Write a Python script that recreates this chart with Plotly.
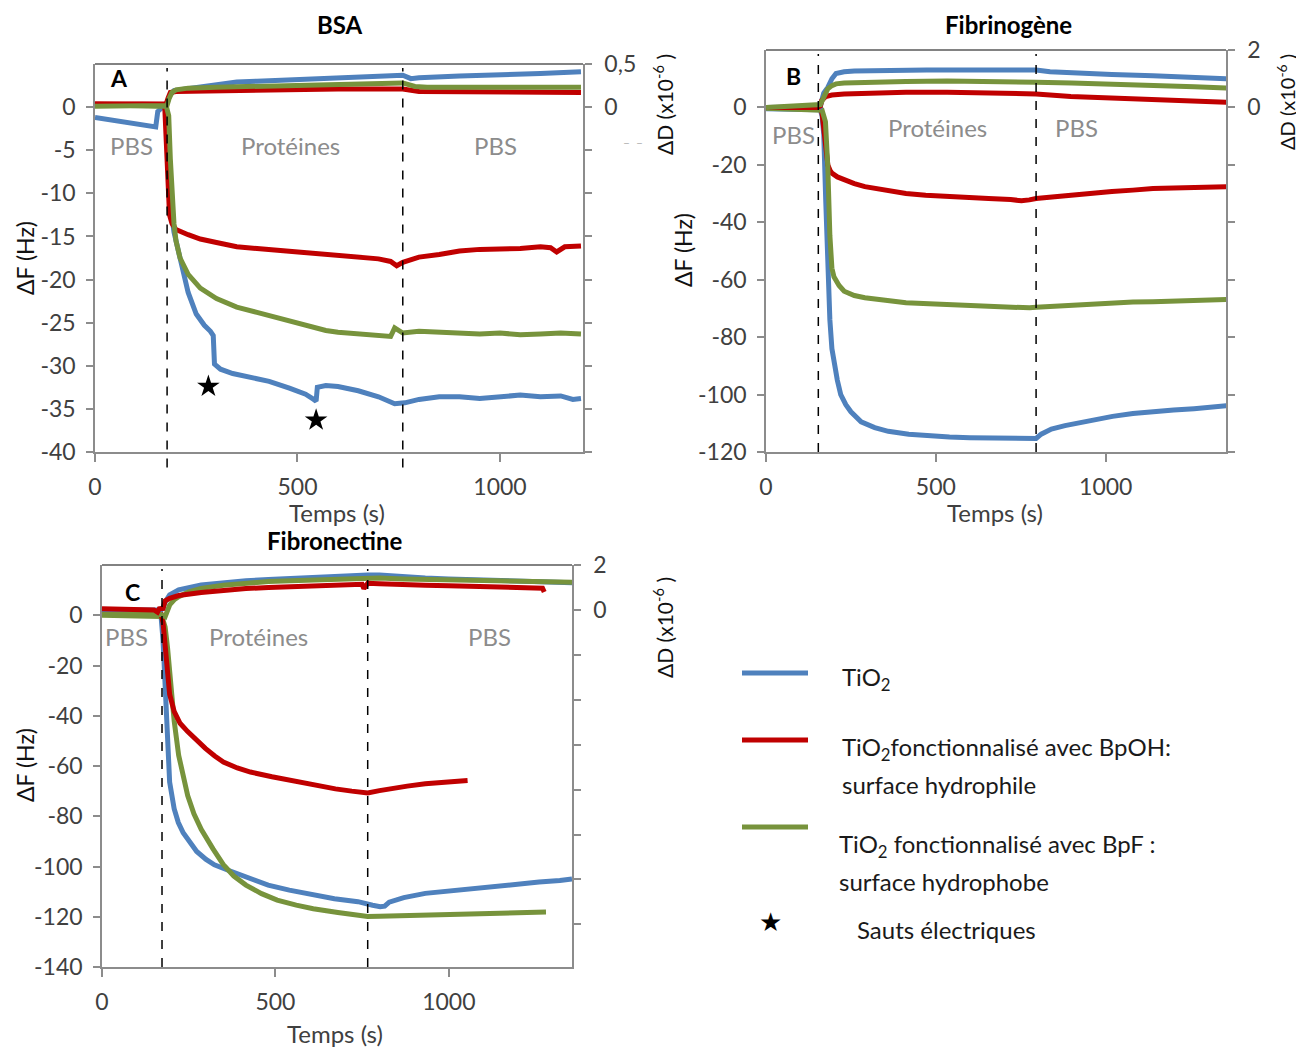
import plotly.graph_objects as go

# ---------------- DATA ----------------
BLUE, RED, GREEN = "#4f81bd", "#c00000", "#77933c"

# Panel A : BSA
A_blue_t = [0, 40, 80, 120, 150, 155, 165, 176, 180, 184, 188, 195, 210, 230, 250, 270, 285, 292, 295, 310, 340, 380, 430, 480, 520, 540, 546, 549, 570, 600, 650, 700, 740, 765, 800, 850, 900, 950, 1000, 1050, 1100, 1150, 1180, 1200]
A_blue_F = [-1.2, -1.5, -1.7, -2.0, -2.3, -0.5, -0.1, 0, -4, -9, -12, -14.5, -17.5, -21.5, -24, -25.3, -26, -26.5, -29.8, -30.4, -30.9, -31.3, -31.8, -32.6, -33.3, -33.9, -34.1, -32.5, -32.3, -32.4, -32.9, -33.6, -34.4, -34.3, -33.9, -33.6, -33.6, -33.8, -33.6, -33.4, -33.6, -33.5, -33.9, -33.8]
A_red_t = [0, 50, 100, 150, 172, 176, 180, 184, 190, 200, 230, 260, 300, 350, 400, 450, 500, 550, 600, 650, 700, 730, 745, 760, 800, 850, 900, 950, 1000, 1050, 1100, 1125, 1140, 1160, 1200]
A_red_F = [0.4, 0.4, 0.3, 0.3, 0.3, -4, -10, -12.5, -13.5, -14.2, -14.8, -15.3, -15.7, -16.2, -16.4, -16.6, -16.8, -17.0, -17.1, -17.4, -17.6, -17.9, -18.4, -18.0, -17.4, -17.1, -16.7, -16.5, -16.5, -16.4, -16.2, -16.3, -16.8, -16.2, -16.1]
A_green_t = [0, 50, 100, 150, 176, 182, 186, 190, 195, 200, 210, 230, 260, 300, 350, 400, 450, 500, 540, 570, 600, 650, 700, 730, 740, 760, 800, 850, 900, 950, 1000, 1050, 1100, 1150, 1200]
A_green_F = [0.3, 0.2, 0.1, 0.1, 0.1, -1, -6, -11, -13.5, -15.5, -17.5, -19.4, -21, -22.2, -23.2, -23.8, -24.4, -25, -25.4, -25.9, -26.1, -26.3, -26.4, -26.6, -25.6, -26.2, -26, -26.1, -26.2, -26.3, -26.2, -26.4, -26.3, -26.2, -26.3]
A_blueD_t = [0, 100, 170, 178, 185, 195, 210, 250, 300, 350, 400, 500, 600, 700, 760, 780, 800, 900, 1000, 1100, 1200]
A_blueD = [0.02, 0.02, 0.02, 0.05, 0.14, 0.19, 0.2, 0.23, 0.27, 0.29, 0.3, 0.32, 0.34, 0.36, 0.37, 0.33, 0.34, 0.36, 0.37, 0.39, 0.41]
A_greenD_t = [0, 170, 178, 183, 190, 200, 230, 300, 400, 500, 600, 700, 740, 760, 790, 820, 900, 1000, 1100, 1200]
A_greenD = [0.01, 0.01, 0.02, 0.1, 0.17, 0.2, 0.22, 0.23, 0.24, 0.25, 0.26, 0.27, 0.28, 0.28, 0.24, 0.23, 0.23, 0.23, 0.23, 0.23]
A_redD_t = [0, 170, 176, 180, 186, 200, 300, 400, 500, 600, 700, 760, 800, 900, 1000, 1100, 1200]
A_redD = [0.03, 0.03, 0.04, 0.1, 0.17, 0.18, 0.19, 0.2, 0.2, 0.21, 0.21, 0.21, 0.18, 0.18, 0.18, 0.18, 0.17]
A_inject = [178, 760]
A_jump_t = [280, 546]
A_jump_F = [-32.4, -36.3]
A_left_ticks = [-40, -35, -30, -25, -20, -15, -10, -5, 0]
A_right_ticks = [-4, -3.5, -3, -2.5, -2, -1.5, -1, -0.5, 0, 0.5]
A_right_labels = {0: "0", 0.5: "0,5"}

# Panel B : Fibrinogene
B_blue_t = [0, 50, 100, 150, 160, 165, 170, 176, 182, 188, 194, 200, 210, 220, 235, 250, 280, 320, 360, 420, 480, 540, 600, 660, 720, 770, 795, 810, 840, 880, 920, 970, 1020, 1080, 1140, 1200, 1260, 1310, 1355]
B_blue_F = [-0.5, -0.5, -0.6, -0.6, -0.8, -3, -9.4, -33, -56, -74, -84, -89, -95, -100, -103.5, -106, -109.5, -111.5, -112.8, -113.8, -114.4, -114.8, -115, -115.2, -115.3, -115.2, -115.3, -113.8, -112, -110.8, -109.8, -108.6, -107.6, -106.6, -105.8, -105.4, -104.9, -104.6, -103.9]
B_red_t = [0, 50, 100, 150, 160, 165, 170, 176, 182, 188, 194, 210, 230, 260, 291, 350, 412, 470, 533, 600, 655, 720, 752, 775, 795, 850, 897, 960, 1018, 1080, 1139, 1200, 1260, 1310, 1355]
B_red_F = [0, 0, -0.2, -0.3, -0.4, -2, -7, -14, -20, -21.8, -22.9, -24.2, -25.2, -26.5, -27.6, -28.8, -30, -30.6, -31.1, -31.4, -31.7, -32.1, -32.5, -32.2, -31.7, -31.1, -30.5, -29.9, -29.3, -28.8, -28.2, -28.1, -27.8, -27.9, -27.6]
B_green_t = [0, 50, 100, 150, 165, 175, 182, 188, 194, 200, 206, 215, 230, 260, 291, 350, 412, 480, 533, 600, 655, 720, 776, 795, 850, 897, 960, 1018, 1080, 1139, 1200, 1261, 1310, 1355]
B_green_F = [-0.3, -0.4, -0.6, -1.0, -1.0, -5, -21, -44.6, -56, -59, -60.5, -62, -64, -65.5, -66.3, -67.3, -68, -68.4, -68.7, -69, -69.2, -69.5, -69.8, -69.6, -69.2, -68.7, -68.4, -68, -67.8, -67.7, -67.5, -67.2, -67.2, -66.9]
B_blueD_t = [0, 150, 160, 164, 170, 182, 194, 206, 230, 260, 352, 473, 594, 715, 795, 836, 900, 1018, 1139, 1261, 1355]
B_blueD = [0, 0, 0.02, 0.24, 0.5, 0.7, 1.0, 1.18, 1.24, 1.27, 1.3, 1.3, 1.3, 1.3, 1.3, 1.24, 1.2, 1.15, 1.1, 1.05, 1.0]
B_greenD_t = [0, 100, 150, 160, 170, 182, 194, 206, 230, 291, 412, 533, 655, 795, 900, 1018, 1139, 1261, 1355]
B_greenD = [0, 0.05, 0.1, 0.1, 0.35, 0.65, 0.76, 0.82, 0.85, 0.88, 0.9, 0.92, 0.92, 0.88, 0.85, 0.82, 0.77, 0.72, 0.68]
B_redD_t = [0, 100, 150, 160, 164, 176, 194, 230, 291, 412, 533, 655, 760, 795, 897, 1018, 1139, 1261, 1355]
B_redD = [0, 0, 0, 0.05, 0.24, 0.38, 0.43, 0.47, 0.5, 0.53, 0.53, 0.52, 0.5, 0.47, 0.38, 0.32, 0.26, 0.22, 0.18]
B_inject = [154, 795]
B_left_ticks = [-120, -100, -80, -60, -40, -20, 0]
B_right_ticks = [-12, -10, -8, -6, -4, -2, 0, 2]
B_right_labels = {0: "0", 2: "2"}

# Panel C : Fibronectine
C_blue_t = [0, 50, 100, 150, 170, 176, 182, 189, 195, 208, 220, 234, 250, 273, 300, 324, 360, 389, 430, 479, 540, 609, 670, 738, 766, 780, 802, 815, 828, 870, 932, 1000, 1061, 1120, 1190, 1260, 1320, 1355]
C_blue_F = [0.5, 0.3, 0.2, 0.2, 0, -10, -28.9, -55.7, -66.4, -77, -82.5, -86.6, -90, -94, -97.2, -99.3, -101.3, -102.7, -105, -107.4, -109.4, -111.4, -112.8, -114, -115.2, -115.4, -116, -115.8, -114.2, -112.4, -110.7, -109.7, -108.7, -107.9, -107, -106.2, -105.6, -105]
C_red_t = [0, 50, 100, 150, 160, 170, 176, 182, 189, 195, 208, 225, 247, 270, 298, 325, 350, 390, 428, 490, 544, 610, 673, 720, 766, 800, 828, 880, 932, 990, 1054]
C_red_F = [0.8, 0.6, 0.6, 0.5, 0.2, 0.6, -3, -12.8, -24, -31.5, -38.3, -43, -46.3, -49.5, -53, -56, -58.4, -60.8, -62.4, -64.3, -65.8, -67.5, -69.1, -70, -70.7, -69.8, -69.1, -68, -67.1, -66.4, -65.8]
C_green_t = [0, 50, 100, 150, 170, 176, 182, 189, 195, 208, 221, 234, 247, 265, 286, 320, 350, 380, 415, 460, 505, 560, 609, 680, 740, 766, 800, 867, 930, 996, 1060, 1125, 1200, 1280]
C_green_F = [0, -0.2, -0.4, -0.5, -0.5, -2, -4.7, -13, -22, -42, -55.7, -65, -71.8, -79, -85.2, -93, -99.3, -103.8, -107.4, -110.8, -113.4, -115.4, -116.8, -118.3, -119.4, -119.9, -119.8, -119.5, -119.2, -119, -118.8, -118.5, -118.3, -118.1]
C_blueD_t = [0, 100, 170, 176, 182, 195, 221, 286, 350, 415, 480, 544, 609, 680, 740, 756, 760, 766, 800, 867, 932, 1000, 1100, 1190, 1280, 1355]
C_blueD = [0, 0, 0, 0.07, 0.35, 0.67, 0.89, 1.11, 1.22, 1.3, 1.35, 1.4, 1.45, 1.48, 1.52, 1.56, 1.58, 1.56, 1.55, 1.46, 1.42, 1.38, 1.33, 1.29, 1.25, 1.21]
C_greenD_t = [0, 100, 170, 182, 195, 208, 221, 250, 286, 350, 415, 480, 544, 609, 680, 740, 766, 800, 867, 1000, 1100, 1190, 1280, 1355]
C_greenD = [-0.2, -0.2, -0.2, -0.3, 0.22, 0.45, 0.59, 0.8, 0.96, 1.1, 1.2, 1.26, 1.3, 1.33, 1.38, 1.42, 1.44, 1.42, 1.38, 1.33, 1.29, 1.26, 1.24, 1.23]
C_redD_t = [0, 100, 150, 160, 165, 176, 182, 195, 221, 286, 350, 415, 480, 544, 609, 680, 740, 750, 755, 760, 766, 800, 867, 932, 1000, 1100, 1190, 1260, 1270, 1275]
C_redD = [0.05, 0.05, 0.0, -0.1, 0.05, 0.07, 0.4, 0.52, 0.64, 0.78, 0.89, 0.95, 1.0, 1.04, 1.08, 1.12, 1.14, 1.14, 0.95, 1.1, 1.19, 1.17, 1.11, 1.1, 1.08, 1.04, 1.02, 0.99, 0.97, 0.8]
C_inject = [173, 766]
C_left_ticks = [-140, -120, -100, -80, -60, -40, -20, 0]
C_right_ticks = [-14, -12, -10, -8, -6, -4, -2, 0, 2]
C_right_labels = {0: "0", 2: "2"}

X_ticks = [0, 500, 1000]

# ---------------- FIGURE ----------------
W, H = 1304, 1048
OX, OY = 8, 8          # page body margin compensation
FONT = "Lato"
TXT = "#404040"
AX = "#8c8c8c"


def P(x, y):
    return (x - OX) / W, 1 - (y - OY) / H


def dx(x0, x1):
    return [(x0 - OX) / W, (x1 - OX) / W]


def dy(top, bottom):
    return [1 - (bottom - OY) / H, 1 - (top - OY) / H]


fig = go.Figure()
LW = 5


def add(t, v, color, xa, ya):
    fig.add_trace(go.Scatter(x=t, y=v, mode="lines", line=dict(color=color, width=LW),
                             xaxis=xa, yaxis=ya, hoverinfo="skip"))


# Panel A
add(A_blue_t, A_blue_F, BLUE, "x", "y")
add(A_red_t, A_red_F, RED, "x", "y")
add(A_green_t, A_green_F, GREEN, "x", "y")
add(A_blueD_t, A_blueD, BLUE, "x", "y2")
add(A_redD_t, A_redD, RED, "x", "y2")
add(A_greenD_t, A_greenD, GREEN, "x", "y2")
fig.add_trace(go.Scatter(x=A_jump_t, y=A_jump_F, mode="markers", xaxis="x", yaxis="y",
                         marker=dict(symbol="star", size=17, color="black"), hoverinfo="skip"))
# Panel B
add(B_blue_t, B_blue_F, BLUE, "x2", "y3")
add(B_red_t, B_red_F, RED, "x2", "y3")
add(B_green_t, B_green_F, GREEN, "x2", "y3")
add(B_blueD_t, B_blueD, BLUE, "x2", "y4")
add(B_redD_t, B_redD, RED, "x2", "y4")
add(B_greenD_t, B_greenD, GREEN, "x2", "y4")
# Panel C
add(C_blue_t, C_blue_F, BLUE, "x3", "y5")
add(C_green_t, C_green_F, GREEN, "x3", "y5")
add(C_red_t, C_red_F, RED, "x3", "y5")
add(C_blueD_t, C_blueD, BLUE, "x3", "y6")
add(C_greenD_t, C_greenD, GREEN, "x3", "y6")
add(C_redD_t, C_redD, RED, "x3", "y6")

tickfont = dict(family=FONT, size=23, color=TXT)
common = dict(showline=True, linecolor=AX, linewidth=1.5, ticks="outside", tickcolor=AX,
              tickwidth=1.5, showgrid=False, zeroline=False, tickfont=tickfont,
              automargin=False, fixedrange=True)


def lab(v):
    return ("%g" % v).replace(".", ",")


def xax(x0, x1, rng, yname):
    return dict(domain=dx(x0, x1), range=rng, anchor=yname, tickvals=X_ticks,
                ticktext=[lab(v) for v in X_ticks], ticklen=8, ticklabelstandoff=6, **common)


def yleft(top, bottom, rng, vals, xname):
    return dict(domain=dy(top, bottom), range=rng, anchor=xname, tickvals=vals,
                ticktext=[lab(v) for v in vals], ticklen=7, ticklabelstandoff=6, **common)


def yright(overlay, rng, vals, labels, xname):
    lv = [v for v in vals if v in labels]
    return dict(overlaying=overlay, side="right", range=rng, anchor=xname, tickvals=lv,
                ticktext=[labels[v] for v in lv], ticklen=7, ticklabelstandoff=8,
                minor=dict(tickmode="array", tickvals=vals, ticks="outside", ticklen=7,
                           tickcolor=AX, tickwidth=1.5, showgrid=False),
                **common)


fig.update_layout(
    width=W, height=H, margin=dict(l=0, r=0, t=0, b=0, autoexpand=False),
    paper_bgcolor="white", plot_bgcolor="white", showlegend=False,
    xaxis=xax(95, 583, [0, 1205], "y"),
    yaxis=yleft(64, 452, [-40, 5], A_left_ticks, "x"),
    yaxis2=yright("y", [-4, 0.5], A_right_ticks, A_right_labels, "x"),
    xaxis2=xax(766, 1226, [0, 1354], "y3"),
    yaxis3=yleft(50, 452, [-120, 20], B_left_ticks, "x2"),
    yaxis4=yright("y3", [-12, 2], B_right_ticks, B_right_labels, "x2"),
    xaxis3=xax(102, 572, [0, 1355], "y5"),
    yaxis5=yleft(565, 967, [-140, 20], C_left_ticks, "x3"),
    yaxis6=yright("y5", [-15.9, 2.0], C_right_ticks, C_right_labels, "x3"),
)

shapes = []
# top borders
for xr, yr in (("x", "y"), ("x2", "y3"), ("x3", "y5")):
    shapes.append(dict(type="line", xref=xr + " domain", yref=yr + " domain", x0=0, x1=1, y0=1, y1=1,
                       line=dict(color="#595959", width=1.5)))
# injection dashed lines
for xr, yr, ts, ybot in (("x", "y", A_inject, -0.04), ("x2", "y3", B_inject, 0), ("x3", "y5", C_inject, 0)):
    for t in ts:
        shapes.append(dict(type="line", xref=xr, yref=yr + " domain", x0=t, x1=t, y0=ybot, y1=0.99,
                           line=dict(color="black", width=1.5, dash="dash")))
# legend lines
for yy, c in ((673, BLUE), (740, RED), (827, GREEN)):
    x0, y0 = P(742, yy)
    x1, _ = P(808, yy)
    shapes.append(dict(type="line", xref="paper", yref="paper", x0=x0, x1=x1, y0=y0, y1=y0,
                       line=dict(color=c, width=5)))
fig.update_layout(shapes=shapes)

ann = []


def A(text, x, y, size=21, color=TXT, bold=False, angle=0, xanchor="center", family=FONT):
    px, py = P(x, y)
    ann.append(dict(text=("<b>%s</b>" % text) if bold else text, x=px, y=py, xref="paper", yref="paper",
                    showarrow=False, textangle=angle, xanchor=xanchor, yanchor="middle",
                    font=dict(family=family, size=size, color=color)))


# titles
A("BSA", 340, 24, 24, "black", True)
A("Fibrinogène", 1008, 24, 24, "black", True)
A("Fibronectine", 335, 541, 24, "black", True)
# panel letters
A("A", 119, 78, 23, "black", True)
A("B", 793, 76, 23, "black", True)
A("C", 132, 592, 23, "black", True)
# phase labels
G = "#8c8c8c"
for txt, x, y in (("PBS", 131, 145), ("Protéines", 290, 145), ("PBS", 495, 145),
                  ("PBS", 793, 134), ("Protéines", 937, 127), ("PBS", 1076, 127),
                  ("PBS", 126, 636), ("Protéines", 258, 636), ("PBS", 490, 636)):
    A(txt, x, y, 24, G)
# x titles
A("Temps (s)", 337, 512, 24, TXT)
A("Temps (s)", 995, 512, 24, TXT)
A("Temps (s)", 335, 1033, 24, TXT)
# y titles
A("ΔF (Hz)", 25, 258, 23, "#111111", angle=-90)
A("ΔF (Hz)", 683, 250, 23, "#111111", angle=-90)
A("ΔF (Hz)", 25, 765, 23, "#111111", angle=-90)
A("ΔD (x10<sup>-6</sup> )", 663, 105, 21, "#111111", angle=-90)
A("ΔD (x10<sup>-6</sup> )", 1286, 102, 20, "#111111", angle=-90)
A("ΔD (x10<sup>-6</sup> )", 663, 628, 21, "#111111", angle=-90)
A("–  –", 633, 143, 12, "#b0b0b0")
# legend texts
LC = "#1a1a1a"
A("TiO<sub>2</sub>", 840, 678, 24, LC, xanchor="left")
A("TiO<sub>2</sub>fonctionnalisé avec BpOH:", 840, 748, 24, LC, xanchor="left")
A("surface hydrophile", 840, 784, 24, LC, xanchor="left")
A("TiO<sub>2</sub> fonctionnalisé avec BpF :", 837, 845, 24, LC, xanchor="left")
A("surface hydrophobe", 837, 881, 24, LC, xanchor="left")
A("Sauts électriques", 855, 929, 24, LC, xanchor="left")
A("★", 770, 922, 26, "black", family="DejaVu Sans")
fig.update_layout(annotations=ann)

fig.write_html("out.html")
